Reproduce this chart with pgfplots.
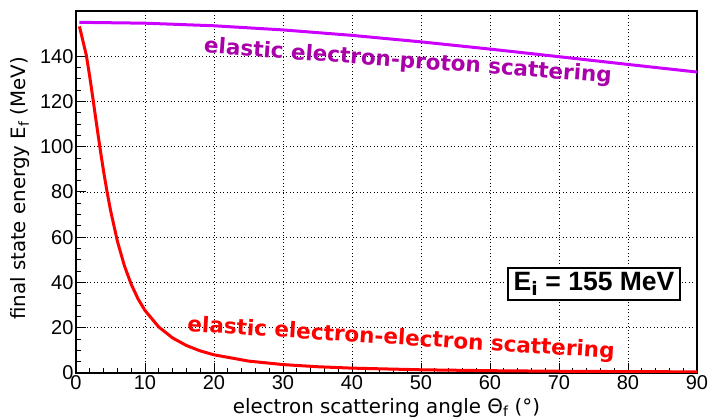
\documentclass[border=0pt]{standalone}
\usepackage{fontspec}
\setmainfont{DejaVu Sans}
\newfontfamily\tickfont{Liberation Sans}
\usepackage{pgfplots}
\pgfplotsset{compat=1.18}
\definecolor{epline}{RGB}{204,0,255}
\definecolor{eptext}{RGB}{170,0,170}
\begin{document}
\begin{tikzpicture}
\path[use as bounding box] (0,0) rectangle (710bp,419bp);
\begin{axis}[
  at={(76bp,46bp)}, anchor=south west,
  width=621bp, height=362bp, scale only axis,
  xmin=0, xmax=90, ymin=0, ymax=160,
  xtick={0,10,...,90}, ytick={0,20,...,140},
  minor x tick num=4, minor y tick num=3,
  tick align=inside,
  xtick pos=bottom, ytick pos=left,
  major tick length=10bp, minor tick length=5bp,
  tick style={black, line width=1bp},
  axis line style={line width=2bp},
  grid=major,
  major grid style={black, line width=0.8bp, dash pattern=on 1bp off 2.5bp},
  /pgf/number format/assume math mode=true,
  ticklabel style={font=\tickfont\fontsize{20bp}{22bp}\selectfont},
  xticklabel style={yshift=1bp},
  yticklabel style={xshift=1bp},
  xlabel={electron scattering angle Θ\textsubscript{f} (°)},
  ylabel={final state energy E\textsubscript{f} (MeV)},
  label style={font=\fontsize{19.8bp}{22bp}\selectfont},
  xlabel style={at={(axis description cs:0.5,0)}, anchor=base, yshift=-40bp},
  ylabel style={at={(axis description cs:0,0.51)}, anchor=center, yshift=56bp},
  clip=true,
]
\addplot[epline, line width=3bp] coordinates {
(0.5,154.99) (10,154.61) (20,153.47) (30,151.64) (40,149.23) (50,146.36)
(60,143.17) (70,139.80) (80,136.38) (90,133.02)};
\addplot[red, line width=3bp] coordinates {
(0.5,153.2) (1.5,140.4) (2,130.8) (2.5,120.3) (3,109.5) (3.5,99.0)
(4,89.1) (4.5,80.1) (5,71.95) (6,58.24) (7,47.53) (8,39.22) (9,32.74)
(10,27.64) (12,20.32) (14,15.49) (16,12.16) (18,9.78) (20,8.03)
(25,5.27) (30,3.72) (35,2.77) (40,2.15) (50,1.42) (60,1.02)
(70,0.775) (80,0.617) (90,0.51)};
\node[eptext, rotate=-4.2, font=\bfseries\fontsize{21.5bp}{23bp}\selectfont]
  at (axis cs:48.1,137.5) {elastic electron-proton scattering};
\node[red, rotate=-3.6, font=\bfseries\fontsize{21.5bp}{23bp}\selectfont]
  at (axis cs:47.1,15.0) {elastic electron-electron scattering};
\node[draw=black, line width=2bp, fill=white, inner xsep=6bp, inner ysep=4bp,
  font=\tickfont\bfseries\fontsize{26.5bp}{28bp}\selectfont]
  at (axis cs:75.07,39.3) {E$_{\mathbf{i}}$ = 155 MeV};
\end{axis}
\end{tikzpicture}
\end{document}
